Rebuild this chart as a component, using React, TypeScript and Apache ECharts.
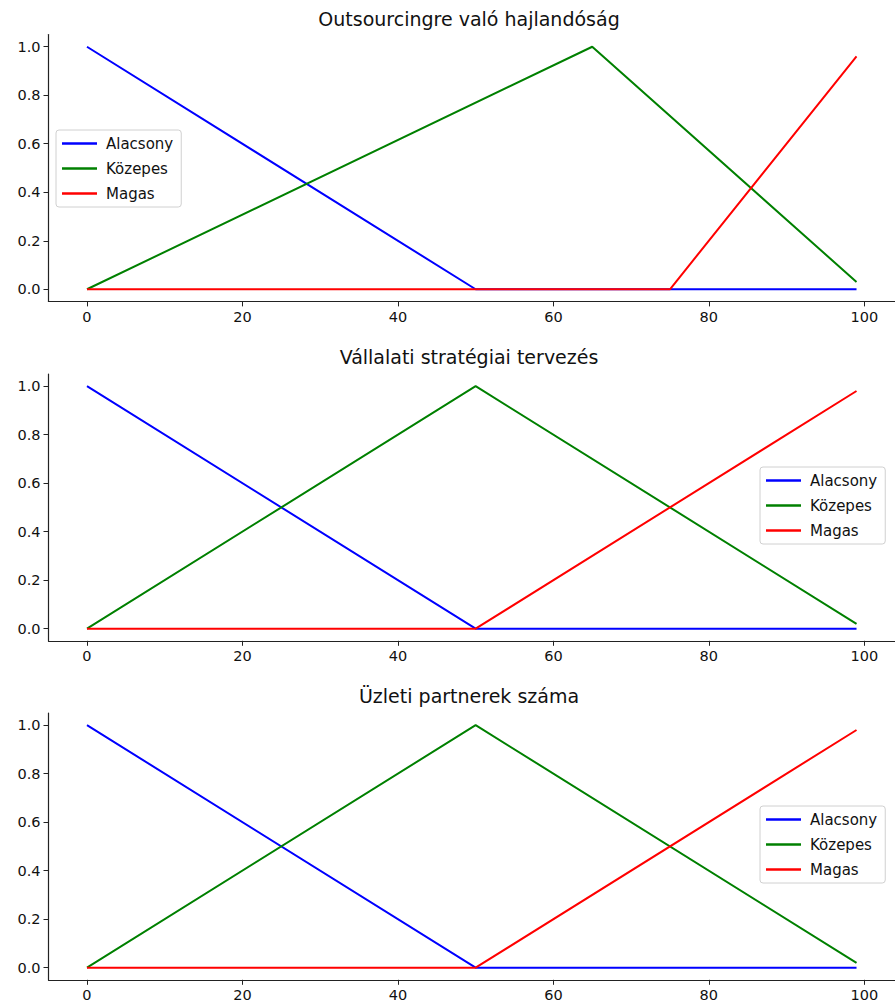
import React, { useEffect, useRef } from "react";
import * as echarts from "echarts";

const titles = ["Outsourcingre való hajlandóság", "Vállalati stratégiai tervezés", "Üzleti partnerek száma"];
const seriesNames = ["Alacsony", "Közepes", "Magas"];
const colors = ["#0000ff", "#008000", "#ff0000"];

// Vertices of each membership curve [x, y]
const alacsony1 = [[0, 1], [50, 0], [99, 0]];
const kozepes1 = [[0, 0], [65, 1], [99, 0.03]];
const magas1 = [[0, 0], [75, 0], [99, 0.96]];

const alacsony2 = [[0, 1], [50, 0], [99, 0]];
const kozepes2 = [[0, 0], [50, 1], [99, 0.02]];
const magas2 = [[0, 0], [50, 0], [99, 0.98]];

const alacsony3 = [[0, 1], [50, 0], [99, 0]];
const kozepes3 = [[0, 0], [50, 1], [99, 0.02]];
const magas3 = [[0, 0], [50, 0], [99, 0.98]];

const xTicks = [0, 20, 40, 60, 80, 100];
const yTicks = [0, 0.2, 0.4, 0.6, 0.8, 1.0];

const panels = [
  [alacsony1, kozepes1, magas1],
  [alacsony2, kozepes2, magas2],
  [alacsony3, kozepes3, magas3],
];

const FONT = "DejaVu Sans";

export default function App() {
  const ref = useRef<HTMLDivElement>(null);
  useEffect(() => {
    const chart = echarts.init(ref.current!, null, { renderer: "svg" });
    const gridTops = [34.6, 374, 713];
    const gridH = 266.8;
    const legendPos = [
      { left: 56, top: 130 },
      { left: 760, top: 467 },
      { left: 760, top: 806 },
    ];
    const titleTops = [9, 347, 686];

    const option: any = {
      animation: false,
      backgroundColor: "#ffffff",
      title: titles.map((t, i) => ({
        text: t,
        left: 469,
        top: titleTops[i],
        textAlign: "center",
        padding: 0,
        textStyle: { fontFamily: FONT, fontSize: 19, fontWeight: "normal", color: "#111" },
      })),
      legend: legendPos.map((p) => ({
        data: seriesNames,
        orient: "vertical",
        left: p.left,
        top: p.top,
        itemWidth: 35,
        itemHeight: 14,
        itemGap: 10,
        padding: [6, 8, 6, 6],
        backgroundColor: "rgba(255,255,255,0.8)",
        borderColor: "#d0d0d0",
        borderWidth: 1,
        borderRadius: 3,
        selectedMode: false,
        textStyle: { fontFamily: FONT, fontSize: 15, color: "#111", padding: [0, 0, 0, 4] },
        icon: "path://M0,0 L35,0 L35,2.5 L0,2.5 Z",
      })),
      grid: gridTops.map((t) => ({ left: 48.5, top: t, height: gridH, right: 0 })),
      xAxis: gridTops.map((_, i) => ({
        type: "value",
        gridIndex: i,
        min: -4.95,
        max: 103.95,
        splitLine: { show: false },
        axisLine: { show: true, onZero: false, lineStyle: { color: "#222", width: 1.2 } },
        axisTick: { show: true, length: 5, customValues: xTicks, lineStyle: { color: "#222" } },
        axisLabel: {
          customValues: xTicks,
          fontFamily: FONT,
          fontSize: 14.5,
          color: "#111",
          margin: 8,
          formatter: (v: number) => String(Math.round(v)),
        },
      })),
      yAxis: gridTops.map((_, i) => ({
        type: "value",
        gridIndex: i,
        min: -0.05,
        max: 1.05,
        splitLine: { show: false },
        axisLine: { show: true, onZero: false, lineStyle: { color: "#222", width: 1.2 } },
        axisTick: { show: true, length: 5, customValues: yTicks, lineStyle: { color: "#222" } },
        axisLabel: {
          customValues: yTicks,
          fontFamily: FONT,
          fontSize: 14.5,
          color: "#111",
          margin: 8,
          formatter: (v: number) => v.toFixed(1),
        },
      })),
      series: panels.flatMap((curves, i) =>
        curves.map((d, j) => ({
          type: "line",
          name: seriesNames[j],
          xAxisIndex: i,
          yAxisIndex: i,
          data: d,
          symbol: "none",
          color: colors[j],
          lineStyle: { color: colors[j], width: 2 },
          z: 2 + j,
        }))
      ),
    };
    chart.setOption(option);
    return () => chart.dispose();
  }, []);
  return (
    <div
      ref={ref}
      style={{ position: "fixed", left: 0, top: 0, width: 895, height: 1008, background: "#fff" }}
    />
  );
}
